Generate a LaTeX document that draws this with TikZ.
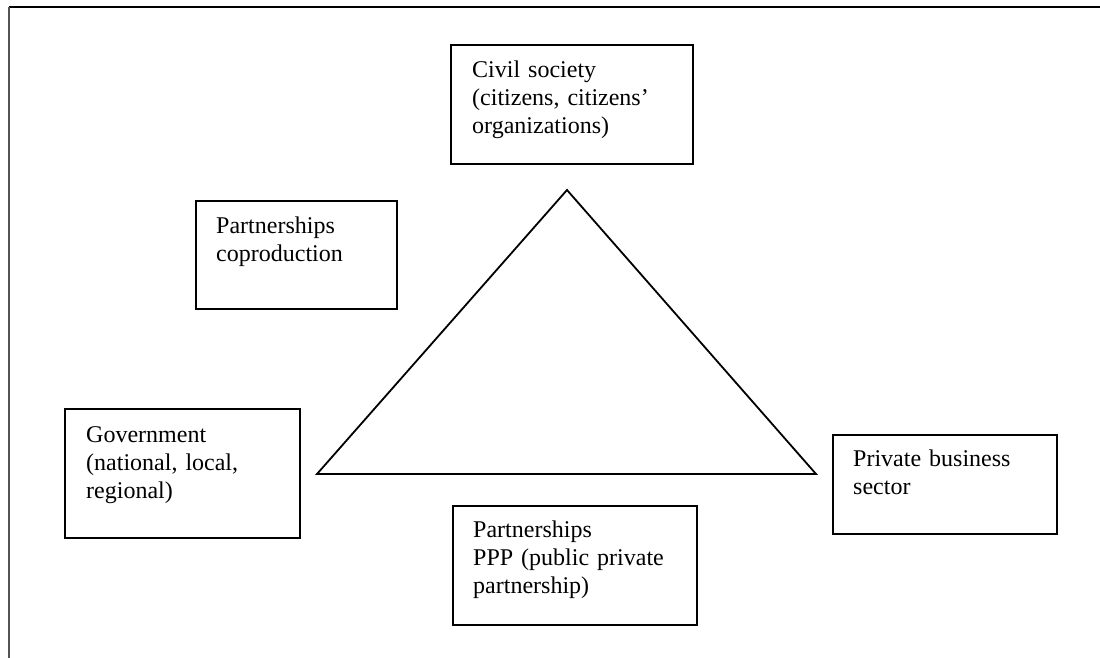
\documentclass[tikz,border=0pt]{standalone}
\usepackage{fontspec}
\setmainfont{Liberation Serif}
\begin{document}
\begin{tikzpicture}[x=1pt,y=-1pt,
  box/.style={draw=black, line width=2pt, inner sep=0pt, anchor=north west},
  lbl/.style={anchor=north west, inner sep=0pt, text width=230pt, align=left,
    font=\fontsize{24}{28}\selectfont},
  edge/.style={draw=black, line width=1.8pt, line join=miter}]
\useasboundingbox (0,0) rectangle (1100,658);
% frame lines
\coordinate (fTL) at (9,7);
\coordinate (fTR) at (1100,7);
\coordinate (fBL) at (9,658);
\draw[line width=2.2pt, black] (fTL) -- (fTR);
\draw[line width=2.2pt, black!67] (fTL) -- (fBL);
% boxes
\node[box, minimum width=242pt, minimum height=119pt] (civil) at (450,44) {};
\node[box, minimum width=201pt, minimum height=108pt] (coprod) at (195,200) {};
\node[box, minimum width=235pt, minimum height=129pt] (gov) at (64,408) {};
\node[box, minimum width=224pt, minimum height=99pt] (priv) at (832,434) {};
\node[box, minimum width=244pt, minimum height=119pt] (ppp) at (452,505) {};
% texts
\node[lbl] (civilT) at ([xshift=22pt]civil.north west) {\rule{0pt}{33pt}Civil society\\(citizens, citizens’\\organizations)};
\node[lbl] (coprodT) at ([xshift=21pt]coprod.north west) {\rule{0pt}{33pt}Partnerships\\coproduction};
\node[lbl] (govT) at ([xshift=22pt]gov.north west) {\rule{0pt}{34pt}Government\\(national, local,\\regional)};
\node[lbl] (privT) at ([xshift=21pt]priv.north west) {\rule{0pt}{32pt}Private business\\sector};
\node[lbl] (pppT) at ([xshift=21pt]ppp.north west) {\rule{0pt}{32pt}Partnerships\\PPP (public private\\partnership)};
% triangle
\coordinate (apex) at (567,190);
\coordinate (bl) at (317,474);
\coordinate (br) at (816,474);
\draw[edge] (apex) -- (br) -- (bl) -- cycle;
\end{tikzpicture}
\end{document}
